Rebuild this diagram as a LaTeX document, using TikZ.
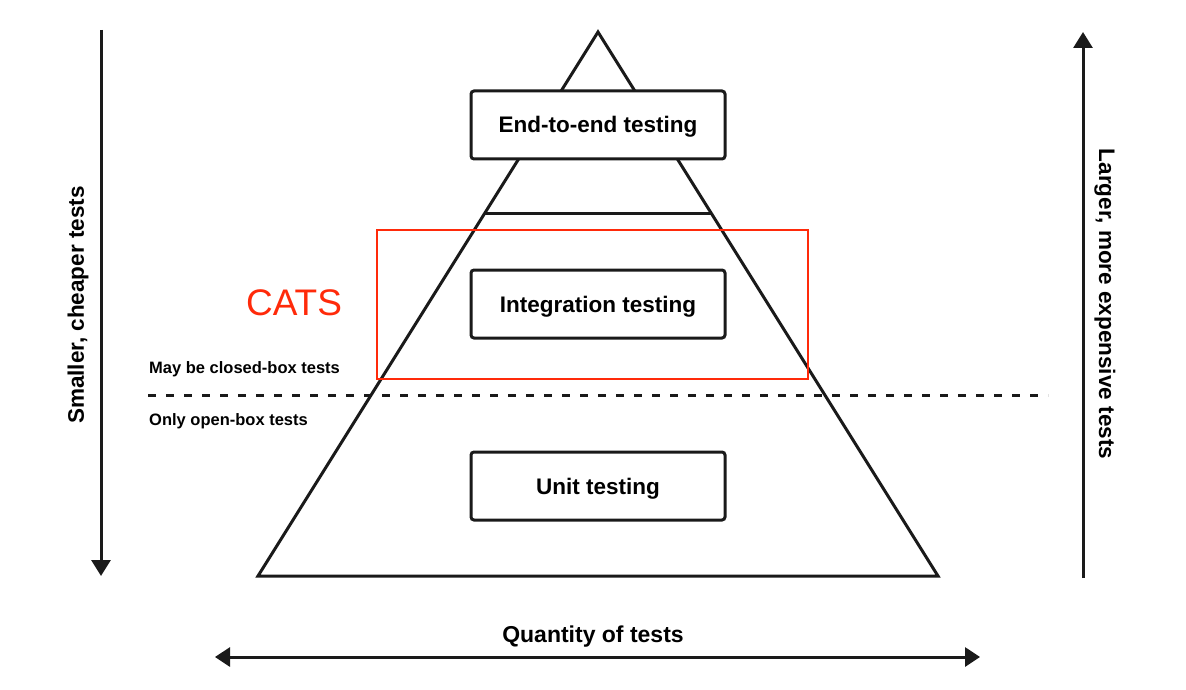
\documentclass[tikz,border=0pt]{standalone}
\usepackage{fontspec}
\setmainfont{Liberation Sans}
\usetikzlibrary{arrows.meta}
\definecolor{ink}{HTML}{1A1A1A}
\definecolor{catsred}{HTML}{FF2A0A}
\begin{document}
\begin{tikzpicture}[x=1pt,y=-1pt,
  layer/.style={draw=ink,line width=3pt,rounded corners=3pt,fill=white,minimum width=254pt,minimum height=68pt,inner sep=0pt,text height=17pt,text depth=1pt,font=\fontsize{22.5}{26}\selectfont\bfseries},
  axis/.style={draw=ink,line width=3pt,-{Triangle[width=19pt,length=16pt]}},
  sidelabel/.style={font=\fontsize{22.5}{27}\selectfont\bfseries,inner sep=0pt},
  note/.style={font=\fontsize{16.5}{20}\selectfont\bfseries,anchor=west,inner sep=0pt},
  pyr/.style={draw=ink,line width=3pt,line join=miter}]
\useasboundingbox (0,0) rectangle (1186,690);
% pyramid
\coordinate (apex) at (598,32);
\coordinate (bl) at (258,576);
\coordinate (br) at (938,576);
\draw[pyr] (bl) -- (apex) -- (br) -- cycle;
\coordinate (sl) at (485,213);
\coordinate (sr) at (711,213);
\draw[pyr] (sl) -- (sr);
% layers
\node[layer] (e2e) at (598,125) {End-to-end testing};
\node[layer] (integ) at (598,304) {Integration testing};
\node[layer] (unit) at (598,486) {Unit testing};
% CATS box
\coordinate (cA) at (377,230);
\coordinate (cB) at (808,379);
\draw[catsred,line width=2.5pt] (cA) rectangle (cB);
\node[text=catsred,font=\fontsize{37}{42}\selectfont,inner sep=0pt] (cats) at (294,303) {CATS};
% dashed separator
\coordinate (dA) at (148,395);
\coordinate (dB) at (1048,395);
\draw[ink,line width=3pt,dash pattern=on 8pt off 10pt] (dA) -- (dB);
\node[note] (closed) at (149,369) {May be closed-box tests};
\node[note] (open) at (149,421) {Only open-box tests};
% side axes
\coordinate (lt) at (101,30);
\coordinate (lb) at (101,576);
\draw[axis] (lt) -- (lb);
\node[sidelabel,rotate=90] (small) at (78,305) {Smaller, cheaper tests};
\coordinate (rb) at (1083,578);
\coordinate (rt) at (1083,32);
\draw[axis] (rb) -- (rt);
\node[sidelabel,rotate=-90] (large) at (1105,304) {Larger, more expensive tests};
% bottom axis
\coordinate (ql) at (215,657);
\coordinate (qr) at (980,657);
\draw[ink,line width=3pt,{Triangle[width=19pt,length=15pt]}-{Triangle[width=19pt,length=15pt]}] (ql) -- (qr);
\node[sidelabel,font=\fontsize{23}{27}\selectfont\bfseries] (qty) at (593,637) {Quantity of tests};
\end{tikzpicture}
\end{document}
